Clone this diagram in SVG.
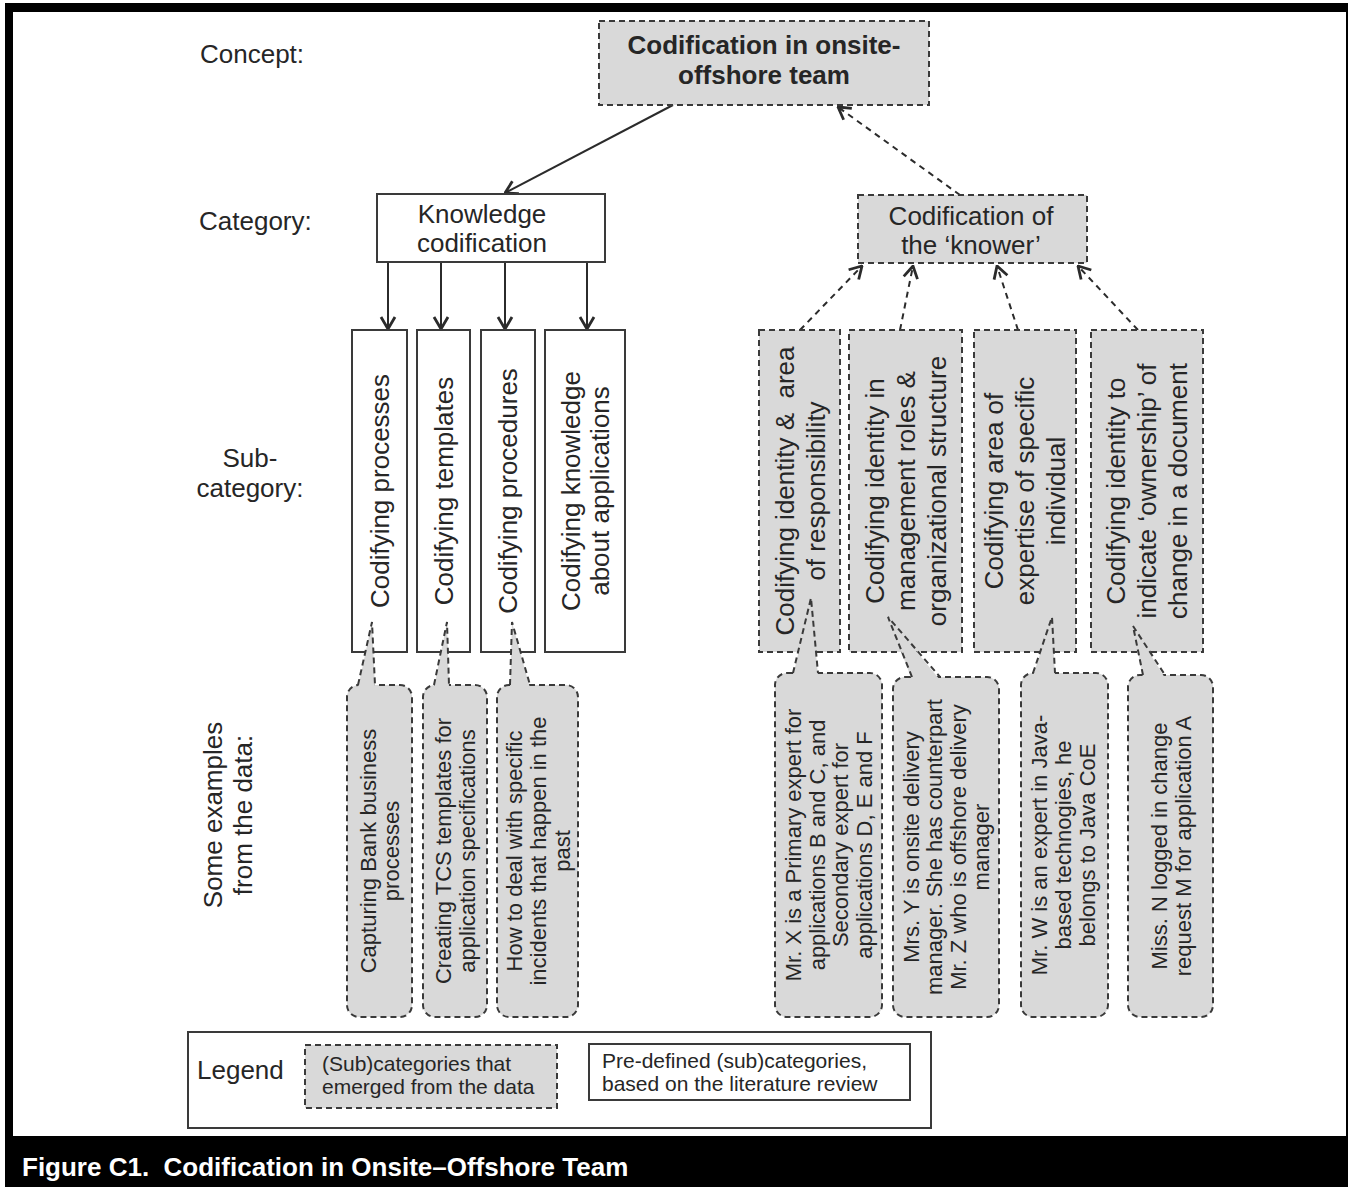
<svg xmlns="http://www.w3.org/2000/svg" width="1348" height="1187" viewBox="0 0 1348 1187">
<style>
text{font-family:"Liberation Sans",Arial,Helvetica,sans-serif;fill:#262626}
.t{font-size:26px}
.b{font-weight:bold}
.ex{font-size:22px}
.sm{font-size:21px}
.mid{text-anchor:middle}
.solid{fill:#fff;stroke:#3a3a3a;stroke-width:2}
.dash{fill:#d9d9d9;stroke:#3a3a3a;stroke-width:2;stroke-dasharray:6 4}
.tailf{fill:#d9d9d9;stroke:none}
.taill{fill:none;stroke:#3a3a3a;stroke-width:2;stroke-dasharray:6 4}
.conn{fill:none;stroke:#2b2b2b;stroke-width:2}
.dconn{stroke-dasharray:6 5}
</style>
<defs>
<marker id="arr" viewBox="0 -9 14 18" refX="13" refY="0" markerWidth="14" markerHeight="18" markerUnits="userSpaceOnUse" orient="auto">
<path d="M1,-7 L13,0 L1,7" fill="none" stroke="#2b2b2b" stroke-width="2.8"/>
</marker>
</defs>
<rect x="0" y="0" width="1348" height="1187" fill="#fff"/>
<rect x="5" y="3" width="1343" height="1184" fill="#000"/>
<rect x="13" y="12" width="1333" height="1124" fill="#fff"/>
<text x="22" y="1176" xml:space="preserve" style="fill:#fff;font-size:26px;font-weight:bold;white-space:pre">Figure C1.  Codification in Onsite–Offshore Team</text>

<g id="row-labels">
<text class="t" x="200" y="63">Concept:</text>
<text class="t" x="199" y="230">Category:</text>
<text class="t mid" x="250" y="467">Sub-</text>
<text class="t mid" x="250" y="497">category:</text>
<text class="t mid" transform="translate(228,815) rotate(-90)"><tspan x="0" y="-6">Some examples</tspan><tspan x="0" y="24">from the data:</tspan></text>
</g>

<g id="connectors">
<line class="conn" x1="673" y1="105" x2="505" y2="193" marker-end="url(#arr)"/>
<line class="conn dconn" x1="960" y1="195" x2="838" y2="107" marker-end="url(#arr)"/>
<line class="conn" x1="388" y1="262" x2="388" y2="329" marker-end="url(#arr)"/>
<line class="conn" x1="441" y1="262" x2="441" y2="329" marker-end="url(#arr)"/>
<line class="conn" x1="505" y1="262" x2="505" y2="329" marker-end="url(#arr)"/>
<line class="conn" x1="587" y1="262" x2="587" y2="329" marker-end="url(#arr)"/>
<line class="conn dconn" x1="800" y1="330" x2="862" y2="266" marker-end="url(#arr)"/>
<line class="conn dconn" x1="900" y1="330" x2="913" y2="266" marker-end="url(#arr)"/>
<line class="conn dconn" x1="1018" y1="330" x2="997" y2="266" marker-end="url(#arr)"/>
<line class="conn dconn" x1="1138" y1="330" x2="1078" y2="266" marker-end="url(#arr)"/>
</g>

<g id="concept">
<rect class="dash" x="599" y="21" width="330" height="84"/>
<text class="t b mid" x="764" y="54">Codification in onsite-</text>
<text class="t b mid" x="764" y="84">offshore team</text>
</g>

<g id="cat-knowledge">
<rect class="solid" x="377" y="194" width="228" height="68"/>
<text class="t mid" x="482" y="223">Knowledge</text>
<text class="t mid" x="482" y="252">codification</text>
</g>

<g id="cat-knower">
<rect class="dash" x="858" y="195" width="229" height="68"/>
<text class="t mid" x="971" y="225">Codification of</text>
<text class="t mid" x="971" y="254">the ‘knower’</text>
</g>

<g id="sub-processes">
<rect class="solid" x="352" y="330" width="55" height="322"/>
<text class="t mid" transform="translate(379.5,491) rotate(-90)"><tspan x="0" y="9">Codifying processes</tspan></text>
</g>
<g id="sub-templates">
<rect class="solid" x="417" y="330" width="53" height="322"/>
<text class="t mid" transform="translate(443.5,491) rotate(-90)"><tspan x="0" y="9">Codifying templates</tspan></text>
</g>
<g id="sub-procedures">
<rect class="solid" x="481" y="330" width="54" height="322"/>
<text class="t mid" transform="translate(508,491) rotate(-90)"><tspan x="0" y="9">Codifying procedures</tspan></text>
</g>
<g id="sub-applications">
<rect class="solid" x="545" y="330" width="80" height="322"/>
<text class="t mid" transform="translate(585,491) rotate(-90)"><tspan x="0" y="-5.5">Codifying knowledge</tspan><tspan x="0" y="23.5">about applications</tspan></text>
</g>

<g id="sub-responsibility">
<rect class="dash" x="759" y="330" width="81" height="322"/>
<text class="t mid" transform="translate(800,491) rotate(-90)" xml:space="preserve" style="white-space:pre"><tspan x="0" y="-6.5">Codifying identity &amp;  area</tspan><tspan x="0" y="24.5">of responsibility</tspan></text>
</g>
<g id="sub-management">
<rect class="dash" x="849" y="330" width="113" height="322"/>
<text class="t mid" transform="translate(905.5,491) rotate(-90)"><tspan x="0" y="-22">Codifying identity in</tspan><tspan x="0" y="9">management roles &amp;</tspan><tspan x="0" y="40">organizational structure</tspan></text>
</g>
<g id="sub-expertise">
<rect class="dash" x="974" y="330" width="102" height="322"/>
<text class="t mid" transform="translate(1025,491) rotate(-90)"><tspan x="0" y="-22">Codifying area of</tspan><tspan x="0" y="9">expertise of specific</tspan><tspan x="0" y="40">individual</tspan></text>
</g>
<g id="sub-ownership">
<rect class="dash" x="1091" y="330" width="112" height="322"/>
<text class="t mid" transform="translate(1147,491) rotate(-90)"><tspan x="0" y="-22">Codifying identity to</tspan><tspan x="0" y="9">indicate ‘ownership’ of</tspan><tspan x="0" y="40">change in a document</tspan></text>
</g>

<g id="ex-bank">
<rect class="dash" x="347" y="685" width="65" height="332" rx="12"/>
<polygon class="tailf" points="358,688 372,622 375,688"/>
<polyline class="taill" points="358,685 372,622 375,685"/>
<text class="ex mid" transform="translate(379.5,851) rotate(-90)"><tspan x="0" y="-4">Capturing Bank business</tspan><tspan x="0" y="19.5">processes</tspan></text>
</g>
<g id="ex-tcs">
<rect class="dash" x="423" y="685" width="64" height="332" rx="12"/>
<polygon class="tailf" points="434,688 447,622 449,688"/>
<polyline class="taill" points="434,685 447,622 449,685"/>
<text class="ex mid" transform="translate(455,851) rotate(-90)"><tspan x="0" y="-4">Creating TCS templates for</tspan><tspan x="0" y="19.5">application specifications</tspan></text>
</g>
<g id="ex-incidents">
<rect class="dash" x="497" y="685" width="81" height="332" rx="12"/>
<polygon class="tailf" points="510,688 512,622 530,688"/>
<polyline class="taill" points="510,685 512,622 530,685"/>
<text class="ex mid" transform="translate(537.5,851) rotate(-90)"><tspan x="0" y="-16">How to deal with specific</tspan><tspan x="0" y="8">incidents that happen in the</tspan><tspan x="0" y="32">past</tspan></text>
</g>

<g id="ex-mrx">
<rect class="dash" x="775" y="673" width="107" height="344" rx="12"/>
<polygon class="tailf" points="793,676 811,598 818,676"/>
<polyline class="taill" points="793,673 811,598 818,673"/>
<text class="ex mid" transform="translate(828.5,845) rotate(-90)"><tspan x="0" y="-27.5">Mr. X is a Primary expert for</tspan><tspan x="0" y="-4">applications B and C, and</tspan><tspan x="0" y="19.5">Secondary expert for</tspan><tspan x="0" y="43">applications D, E and F</tspan></text>
</g>
<g id="ex-mrsy">
<rect class="dash" x="893" y="677" width="106" height="340" rx="12"/>
<polygon class="tailf" points="912,680 888,617 940,680"/>
<polyline class="taill" points="912,677 888,617 940,677"/>
<text class="ex mid" transform="translate(946,847) rotate(-90)"><tspan x="0" y="-27.5">Mrs. Y is onsite delivery</tspan><tspan x="0" y="-4">manager. She has counterpart</tspan><tspan x="0" y="19.5">Mr. Z who is offshore delivery</tspan><tspan x="0" y="43">manager</tspan></text>
</g>
<g id="ex-mrw">
<rect class="dash" x="1021" y="673" width="87" height="344" rx="12"/>
<polygon class="tailf" points="1033,676 1052,617 1055,676"/>
<polyline class="taill" points="1033,673 1052,617 1055,673"/>
<text class="ex mid" transform="translate(1063,845) rotate(-90)"><tspan x="0" y="-16">Mr. W is an expert in Java-</tspan><tspan x="0" y="8">based technogies, he</tspan><tspan x="0" y="32">belongs to Java CoE</tspan></text>
</g>
<g id="ex-missn">
<rect class="dash" x="1128" y="675" width="85" height="342" rx="12"/>
<polygon class="tailf" points="1143,678 1133,626 1165,678"/>
<polyline class="taill" points="1143,675 1133,626 1165,675"/>
<text class="ex mid" transform="translate(1171,846) rotate(-90)"><tspan x="0" y="-4">Miss. N logged in change</tspan><tspan x="0" y="19.5">request M for application A</tspan></text>
</g>

<g id="legend">
<rect class="solid" x="188" y="1032" width="743" height="96"/>
<text class="t" x="197" y="1079">Legend</text>
<rect class="dash" x="305" y="1045" width="252" height="63"/>
<text class="sm" x="322" y="1071">(Sub)categories that</text>
<text class="sm" x="322" y="1094">emerged from the data</text>
<rect class="solid" x="589" y="1044" width="321" height="56"/>
<text class="sm" x="602" y="1068">Pre-defined (sub)categories,</text>
<text class="sm" x="602" y="1091">based on the literature review</text>
</g>
</svg>
